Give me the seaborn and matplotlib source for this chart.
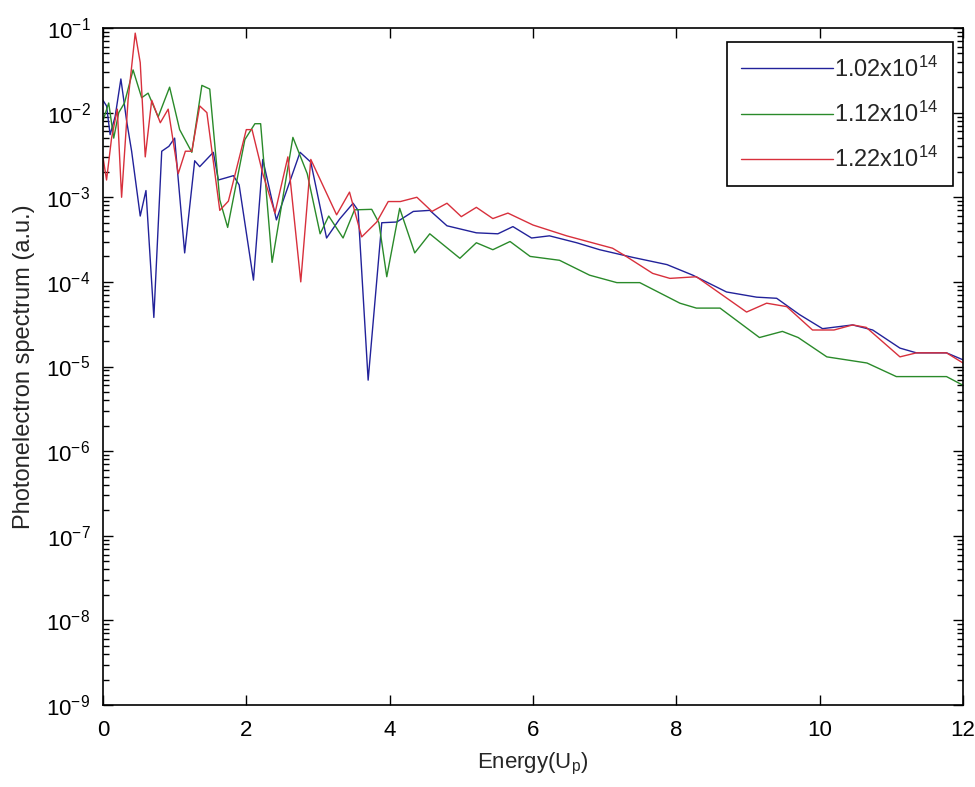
import numpy as np
import pandas as pd
import seaborn as sns
import matplotlib.pyplot as plt
from matplotlib.ticker import FixedLocator, LogLocator, NullFormatter

# ---------------- DATA ----------------
labels = ["1.02x10$^{14}$", "1.12x10$^{14}$", "1.22x10$^{14}$"]
colors = ["#22229a", "#2a8a2a", "#d8303c"]

e_blue = [0.00, 0.05, 0.10, 0.17, 0.25, 0.33, 0.40, 0.52, 0.60, 0.71, 0.82, 0.92,
          1.00, 1.14, 1.28, 1.35, 1.54, 1.61, 1.72, 1.82, 1.90, 2.10, 2.23, 2.42,
          2.75, 2.90, 3.12, 3.30, 3.49, 3.56, 3.70, 3.89, 4.10, 4.33, 4.56, 4.80,
          5.21, 5.51, 5.72, 5.98, 6.23, 6.61, 6.93, 7.39, 7.87, 8.23, 8.70, 9.12,
          9.40, 9.72, 10.04, 10.46, 10.74, 11.12, 11.35, 11.77, 12.00]
s_blue = [1.4e-2, 1.2e-2, 5.5e-3, 9e-3, 2.5e-2, 8e-3, 3.5e-3, 6e-4, 1.2e-3, 3.8e-5, 3.5e-3, 4e-3,
          5e-3, 2.2e-4, 2.7e-3, 2.3e-3, 3.4e-3, 1.6e-3, 1.7e-3, 1.8e-3, 1.4e-3, 1.05e-4, 2.8e-3, 5.4e-4,
          3.4e-3, 2.6e-3, 3.3e-4, 5.5e-4, 8.5e-4, 7e-4, 6.9e-6, 5e-4, 5.1e-4, 6.8e-4, 7e-4, 4.6e-4,
          3.8e-4, 3.7e-4, 4.5e-4, 3.3e-4, 3.5e-4, 2.9e-4, 2.4e-4, 1.95e-4, 1.6e-4, 1.2e-4, 7.6e-5, 6.6e-5,
          6.4e-5, 4.1e-5, 2.8e-5, 3.1e-5, 2.7e-5, 1.65e-5, 1.45e-5, 1.45e-5, 1.2e-5]

e_green = [0.00, 0.08, 0.15, 0.22, 0.30, 0.42, 0.54, 0.63, 0.77, 0.93, 1.07, 1.24,
           1.38, 1.49, 1.63, 1.74, 1.98, 2.12, 2.20, 2.36, 2.65, 2.85, 3.03, 3.15,
           3.35, 3.51, 3.75, 3.85, 3.96, 4.14, 4.35, 4.56, 4.98, 5.21, 5.44, 5.68,
           5.96, 6.37, 6.79, 7.17, 7.49, 8.05, 8.28, 8.61, 9.16, 9.48, 9.70, 10.10,
           10.66, 11.07, 11.77, 12.00]
s_green = [8e-3, 1.3e-2, 5e-3, 1e-2, 1.3e-2, 3.2e-2, 1.5e-2, 1.7e-2, 8.9e-3, 2e-2, 6.3e-3, 3.4e-3,
           2.1e-2, 1.9e-2, 9.3e-4, 4.4e-4, 4.8e-3, 7.4e-3, 7.4e-3, 1.7e-4, 5.1e-3, 1.9e-3, 3.7e-4, 6e-4,
           3.3e-4, 7.1e-4, 7.2e-4, 5e-4, 1.15e-4, 7.4e-4, 2.2e-4, 3.7e-4, 1.9e-4, 2.9e-4, 2.4e-4, 3e-4,
           2e-4, 1.8e-4, 1.2e-4, 9.8e-5, 9.8e-5, 5.6e-5, 4.9e-5, 4.9e-5, 2.2e-5, 2.6e-5, 2.2e-5, 1.3e-5,
           1.1e-5, 7.6e-6, 7.6e-6, 6e-6]

e_red = [0.00, 0.05, 0.12, 0.20, 0.26, 0.35, 0.45, 0.52, 0.59, 0.68, 0.80, 0.91,
         1.05, 1.15, 1.24, 1.35, 1.45, 1.63, 1.75, 2.00, 2.08, 2.23, 2.40, 2.58,
         2.76, 2.90, 3.26, 3.44, 3.61, 3.82, 3.98, 4.15, 4.38, 4.59, 4.80, 5.00,
         5.21, 5.44, 5.65, 6.00, 6.47, 7.11, 7.30, 7.67, 7.91, 8.28, 8.98, 9.26,
         9.54, 9.90, 10.20, 10.46, 10.65, 11.12, 11.35, 11.77, 12.00]
s_red = [3e-3, 1.6e-3, 5e-3, 1.1e-2, 1e-3, 1.4e-2, 8.7e-2, 3.9e-2, 3e-3, 1.4e-2, 7.6e-3, 1.1e-2,
         1.9e-3, 3.5e-3, 3.5e-3, 1.2e-2, 1e-2, 7e-4, 9e-4, 6.3e-3, 6.3e-3, 1.9e-3, 6.5e-4, 3e-3,
         1e-4, 2.8e-3, 6.2e-4, 1.15e-3, 3.4e-4, 5.1e-4, 8.9e-4, 8.9e-4, 1e-3, 6.8e-4, 8.5e-4, 5.9e-4,
         7.6e-4, 5.6e-4, 6.5e-4, 4.7e-4, 3.5e-4, 2.5e-4, 2e-4, 1.26e-4, 1.1e-4, 1.15e-4, 4.4e-5, 5.6e-5,
         5.1e-5, 2.7e-5, 2.7e-5, 3.1e-5, 2.9e-5, 1.3e-5, 1.45e-5, 1.45e-5, 1.1e-5]

# ---------------- LONG FORM TABLE ----------------
df = pd.concat([
    pd.DataFrame({"E": e_blue, "S": s_blue, "I": labels[0]}),
    pd.DataFrame({"E": e_green, "S": s_green, "I": labels[1]}),
    pd.DataFrame({"E": e_red, "S": s_red, "I": labels[2]}),
], ignore_index=True)

# ---------------- STYLE ----------------
sns.set_style("ticks")
plt.rcParams["font.family"] = ["Liberation Sans", "DejaVu Sans"]
plt.rcParams["mathtext.default"] = "regular"

fig = plt.figure(figsize=(9.75, 7.87), dpi=100)
ax = fig.add_axes([0.1056, 0.1042, 0.8821, 0.8602])

sns.lineplot(data=df, x="E", y="S", hue="I", palette=dict(zip(labels, colors)),
             estimator=None, sort=False, linewidth=1.0, ax=ax)

ax.set_yscale("log")
ax.set_xlim(0, 12)
ax.set_ylim(1e-9, 1e-1)
ax.set_xticks(np.arange(0, 13, 2))
# only the decades inside the view, so no hidden label sits past the edge
ax.yaxis.set_major_locator(FixedLocator(np.logspace(-9, -1, 9)))
ax.yaxis.set_minor_locator(LogLocator(base=10, subs=np.arange(2, 10), numticks=20))
ax.yaxis.set_minor_formatter(NullFormatter())

ax.tick_params(which="both", direction="in", top=True, right=True, width=1.0,
               labelsize=16, colors="black")
ax.tick_params(which="major", length=7)
ax.tick_params(axis="x", which="major", pad=11)
ax.tick_params(axis="y", which="major", pad=9)
ax.tick_params(which="minor", length=4)
for sp in ax.spines.values():
    sp.set_linewidth(1.2)
    sp.set_color("black")

ax.set_xlabel("Energy(U$_p$)", fontsize=16, labelpad=7)
ax.set_ylabel("Photonelectron spectrum (a.u.)", fontsize=17, labelpad=8)

leg = ax.legend(loc="upper right", bbox_to_anchor=(0.988, 0.979), borderaxespad=0,
                fontsize=17, handlelength=3.9, labelspacing=0.85, handletextpad=0.05,
                borderpad=0.6, fancybox=False, framealpha=1)
leg.get_frame().set_edgecolor("black")
leg.get_frame().set_linewidth(1.2)

fig.savefig("out.png", dpi=100)
